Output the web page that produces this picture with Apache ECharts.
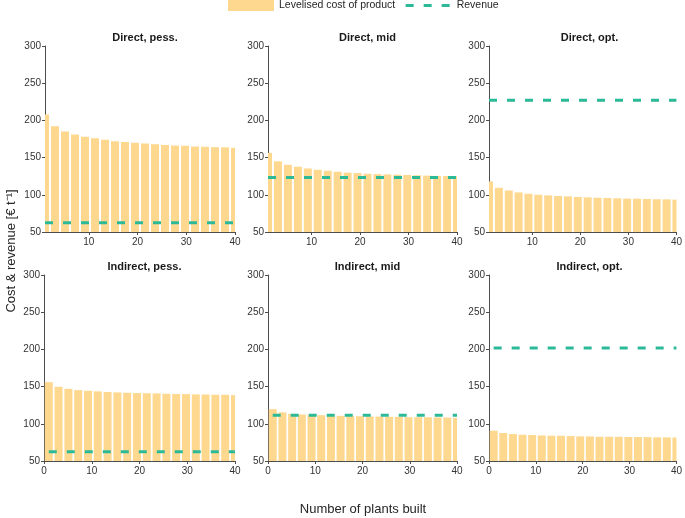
<!DOCTYPE html>
<html>
<head>
<meta charset="utf-8">
<script src="https://cdn.jsdelivr.net/npm/echarts@6/dist/echarts.min.js"></script>
<style>html,body{margin:0;padding:0;background:#fff;}#c{width:685px;height:518px;}</style>
</head>
<body>
<div id="c"></div>
<script>
// Number of plants built (bar positions)
const xPlants = [1, 3.05, 5.11, 7.16, 9.21, 11.26, 13.32, 15.37, 17.42, 19.47, 21.53, 23.58, 25.63, 27.68, 29.74, 31.79, 33.84, 35.89, 37.95, 40];
const panelTitles = ['Direct, pess.', 'Direct, mid', 'Direct, opt.', 'Indirect, pess.', 'Indirect, mid', 'Indirect, opt.'];
const directPess = [208, 192, 185, 181, 178, 176, 174, 172, 171, 170, 169, 168, 167, 166.3, 166, 165, 164.6, 164, 163.8, 163.2];
const directMid = [156.4, 145, 140.3, 137.7, 135.4, 133.6, 132.3, 131, 129.8, 129.2, 128.3, 127.8, 127.4, 127, 126.6, 126.2, 125.8, 125.4, 125.2, 124.8];
const directOpt = [118, 109.5, 105.8, 103.2, 101.4, 100.1, 99.2, 98.4, 97.9, 97.1, 96.6, 96.1, 95.7, 95.3, 94.9, 94.8, 94.4, 94, 93.9, 93.5];
const indirectPess = [156, 149.7, 147, 145.3, 144.4, 143.6, 142.7, 142.2, 141.7, 141.3, 141.1, 140.8, 140.4, 140, 139.9, 139.5, 139.4, 139.1, 139, 138.6];
const indirectMid = [119.7, 115.4, 113.4, 112.5, 112.1, 111.6, 111.2, 110.7, 110.3, 110.2, 109.8, 109.7, 109.4, 109.3, 108.9, 108.9, 108.8, 108.5, 108.4, 108];
const indirectOpt = [90.7, 87.6, 86.2, 85.3, 84.9, 84.4, 84, 83.9, 83.5, 83.1, 83, 82.6, 82.6, 82.5, 82.2, 82.2, 82.1, 81.8, 81.7, 81.6];
const costSeries = [directPess, directMid, directOpt, indirectPess, indirectMid, indirectOpt];
const revenueValues = [62.5, 123.3, 227, 62.5, 111.5, 202];
const yTicks = [50, 100, 150, 200, 250, 300];
const xTicksTop = [10, 20, 30, 40];

const barColor = '#fed88f';
const revColor = '#2bb997';
const axisColor = '#4d4d4d';
const labelColor = '#333333';
const font = 'Liberation Sans, Arial, Helvetica, sans-serif';

const grids = [
  {left: 45, top: 46, width: 190, height: 186},
  {left: 268, top: 46, width: 189, height: 186},
  {left: 489, top: 46, width: 191, height: 186},
  {left: 44, top: 275, width: 191, height: 186},
  {left: 268, top: 275, width: 189, height: 186},
  {left: 489, top: 275, width: 191, height: 186}
];

function renderBar(params, api) {
  const x = api.value(0), y = api.value(1);
  const topPt = api.coord([x, y]);
  const basePt = api.coord([x, 0]);
  const w = 8;
  const cs = params.coordSys;
  const rect = echarts.graphic.clipRectByRect(
    {x: topPt[0] - w / 2, y: topPt[1], width: w, height: basePt[1] - topPt[1]},
    {x: cs.x, y: cs.y, width: cs.width, height: cs.height}
  );
  if (!rect) return null;
  return {type: 'rect', shape: rect, style: {fill: barColor}};
}

const xAxes = [], yAxes = [], series = [], titles = [];
grids.forEach((g, i) => {
  const top = i < 3;
  xAxes.push({
    type: 'value', gridIndex: i,
    min: top ? 1 : 0, max: 40,
    interval: top ? undefined : 10,
    axisLine: {show: true, lineStyle: {color: axisColor, width: 1}},
    axisTick: {show: true, length: 3, lineStyle: {color: axisColor}, customValues: top ? xTicksTop : undefined},
    axisLabel: {color: labelColor, fontSize: 10, fontFamily: font, margin: 5, customValues: top ? xTicksTop : undefined},
    splitLine: {show: false}
  });
  yAxes.push({
    type: 'value', gridIndex: i,
    min: yTicks[0], max: yTicks[yTicks.length - 1], interval: 50,
    axisLine: {show: true, lineStyle: {color: axisColor, width: 1}},
    axisTick: {show: true, length: 3, lineStyle: {color: axisColor}},
    axisLabel: {color: labelColor, fontSize: 10, fontFamily: font, margin: 4},
    splitLine: {show: false}
  });
  series.push({
    name: 'Levelised cost of product',
    type: 'custom', xAxisIndex: i, yAxisIndex: i,
    data: xPlants.map((x, k) => [x, costSeries[i][k]]),
    renderItem: renderBar,
    encode: {x: 0, y: 1},
    itemStyle: {color: barColor},
    emphasis: {disabled: true},
    z: 2
  });
  series.push({
    name: 'Revenue',
    type: 'line', xAxisIndex: i, yAxisIndex: i,
    data: [[xPlants[0], revenueValues[i]], [xPlants[xPlants.length - 1], revenueValues[i]]],
    symbol: 'none',
    lineStyle: {color: revColor, width: 3, type: [8, 10]},
    itemStyle: {color: revColor},
    z: 3
  });
  titles.push({
    text: panelTitles[i],
    left: g.left + g.width / 2,
    textAlign: 'center',
    top: g.top - 19,
    textStyle: {fontSize: 11, fontWeight: 'bold', color: '#1a1a1a', fontFamily: font}
  });
});

const chart = echarts.init(document.getElementById('c'), null, {renderer: 'canvas'});
chart.setOption({
  backgroundColor: '#ffffff',
  animation: false,
  title: titles,
  legend: {
    left: 228, top: 0, padding: 0,
    itemWidth: 46, itemHeight: 11, itemGap: 9,
    textStyle: {fontSize: 10.5, color: '#262626', fontFamily: font},
    data: [
      {name: 'Levelised cost of product', icon: 'rect', itemStyle: {color: barColor}},
      {name: 'Revenue', itemStyle: {opacity: 0}, lineStyle: {color: revColor, width: 3, type: [8, 10]}}
    ]
  },
  grid: grids,
  xAxis: xAxes,
  yAxis: yAxes,
  series: series,
  graphic: [
    {
      type: 'text', x: 11, y: 251, rotation: Math.PI / 2,
      style: {text: 'Cost & revenue [€ t⁻¹]', fill: '#262626', font: '13px ' + font, align: 'center', verticalAlign: 'middle'}
    },
    {
      type: 'text', x: 363, y: 509,
      style: {text: 'Number of plants built', fill: '#262626', font: '13px ' + font, align: 'center', verticalAlign: 'middle'}
    }
  ]
});
</script>
</body>
</html>
